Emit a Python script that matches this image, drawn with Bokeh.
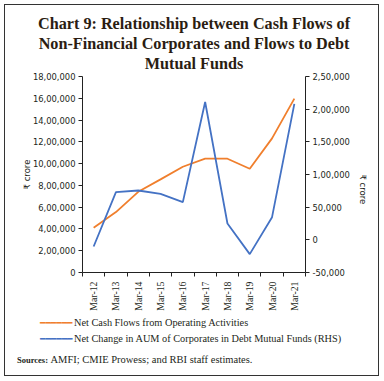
import math
from bokeh.plotting import figure
from bokeh.models import Range1d, LinearAxis, FixedTicker, Title
from bokeh.embed import file_html
from bokeh.resources import INLINE

categories = ["Mar-12", "Mar-13", "Mar-14", "Mar-15", "Mar-16",
              "Mar-17", "Mar-18", "Mar-19", "Mar-20", "Mar-21"]
net_cash_flows = [410000, 555000, 741000, 855000, 971000,
                  1045000, 1045000, 953000, 1232000, 1597000]
net_change_aum = [-10200, 73000, 75500, 70400, 57700,
                  211000, 25000, -21900, 34700, 208000]
left_ticks = [0, 200000, 400000, 600000, 800000, 1000000, 1200000, 1400000, 1600000, 1800000]
left_tick_labels = ["0", "2,00,000", "4,00,000", "6,00,000", "8,00,000", "10,00,000",
                    "12,00,000", "14,00,000", "16,00,000", "18,00,000"]
right_ticks = [-50000, 0, 50000, 100000, 150000, 200000, 250000]
right_tick_labels = ["-50,000", "0", "50,000", "1,00,000", "1,50,000", "2,00,000", "2,50,000"]

title_lines = ["Chart 9: Relationship between Cash Flows of",
               "Non-Financial Corporates and Flows to Debt",
               "Mutual Funds"]
series_names = ["Net Cash Flows from Operating Activities",
                "Net Change in AUM of Corporates in Debt Mutual Funds (RHS)"]
source_head = "Sources:"
source_text = "AMFI; CMIE Prowess; and RBI staff estimates."

ORANGE = "#F07F2D"
BLUE = "#4472C4"
TXT = "#231f20"
TITLE_C = "#2b1d12"

FL, FT = 77, 71
FW, FH = 223, 196
BR, BB = 73, 103

p = figure(frame_width=FW, frame_height=FH, output_backend="svg", toolbar_location=None,
           x_range=Range1d(0, len(categories)), y_range=Range1d(0, 1800000),
           min_border_left=FL, min_border_right=BR, min_border_top=FT,
           min_border_bottom=BB, x_axis_type=None, y_axis_type=None,
           styles={"border": "1.5px solid #333333", "margin-left": "4px",
                   "margin-top": "4px"})
p.extra_y_ranges = {"rhs": Range1d(-50000, 250000)}
p.grid.visible = False
p.outline_line_color = None
p.background_fill_color = "white"
p.border_fill_color = "white"

xs = [i + 0.5 for i in range(len(categories))]

tick_font = "DejaVu Sans"
yl = LinearAxis(ticker=FixedTicker(ticks=left_ticks, minor_ticks=[]),
                major_label_overrides={t: l for t, l in zip(left_ticks, left_tick_labels)},
                axis_label="₹ crore")
xb = LinearAxis(ticker=FixedTicker(ticks=xs, minor_ticks=list(range(len(categories) + 1))),
                major_label_overrides={x: c for x, c in zip(xs, categories)})
yr = LinearAxis(y_range_name="rhs",
                ticker=FixedTicker(ticks=right_ticks, minor_ticks=[]),
                major_label_overrides={t: l for t, l in zip(right_ticks, right_tick_labels)},
                axis_label="₹ crore")
for ax in (yl, yr):
    ax.major_label_text_font = tick_font
    ax.major_label_text_font_size = "8.4px"
    ax.major_label_text_color = TXT
    ax.axis_label_text_font = tick_font
    ax.axis_label_text_font_size = "8.5px"
    ax.axis_label_text_font_style = "normal"
    ax.axis_label_text_color = TXT
    ax.major_tick_out = 4
    ax.major_tick_in = 0
    ax.minor_tick_out = 0
    ax.axis_line_color = "#222222"
    ax.major_tick_line_color = "#222222"
yl.major_label_standoff = 3
yl.axis_label_standoff = 1
try:
    yl.axis_label_standoff = -2
except Exception:
    pass
yr.major_label_standoff = 3
yr.axis_label_standoff = 10
if "axis_label_orientation" in yr.properties():
    try:
        yr.axis_label_orientation = -math.pi / 2
    except Exception:
        pass
xb.major_label_orientation = math.pi / 2
xb.major_label_text_font = "Liberation Serif"
xb.major_label_text_font_size = "9.8px"
xb.major_label_text_color = TXT
xb.major_tick_out = 0
xb.major_tick_in = 0
xb.minor_tick_out = 4
xb.minor_tick_in = 0
xb.major_label_standoff = 5
xb.axis_line_color = "#222222"
xb.minor_tick_line_color = "#222222"
p.add_layout(yl, "left")
p.add_layout(yr, "right")
p.add_layout(xb, "below")

r1 = p.line(xs, net_cash_flows, line_color=ORANGE, line_width=1.8)
r2 = p.line(xs, net_change_aum, line_color=BLUE, line_width=1.8, y_range_name="rhs")


def row(text, offset, size, font="Liberation Serif", style="normal", color=TXT,
        valign="middle", standoff=0.0):
    p.add_layout(Title(text=text, align="left", offset=offset, vertical_align=valign,
                       text_font=font, text_font_size=size, text_font_style=style,
                       text_color=color, standoff=standoff), "below")


def spacer(standoff):
    p.add_layout(Title(text=" ", align="left", vertical_align="middle",
                       text_font="Liberation Serif", text_font_size="9.8px",
                       text_color=TXT, standoff=standoff), "below")


# key (legend) rows: label row, then a thin row carrying the coloured key line
key_colors = [ORANGE, BLUE]
spacer(-6.25)
for i, (name, col) in enumerate(zip(series_names, key_colors)):
    row(name, 68.5 - FL, "10.3px", standoff=-9.82)
    row("━━━━━━", 34.5 - FL, "9px", font="DejaVu Sans", color=col,
        valign="top", standoff=-10.1)
    if i == 0:
        spacer(-1.65)
spacer(2.85)

# sources line: regular text row, then thin bold head on the same line
row(source_text, 45 - FL, "10.5px", standoff=-10.05)
row(source_head, 11.5 - FL, "8.5px", style="bold", valign="top", standoff=-10.5)

# title lines: nearest to frame first
for line, s in zip(reversed(title_lines), [6.4, -6.0, 5.6]):
    p.add_layout(Title(text=line, align="center", vertical_align="middle",
                       text_font="Liberation Serif", text_font_size="16.2px",
                       text_font_style="bold", text_color=TITLE_C,
                       standoff=s), "above")

open("out.html", "w").write(file_html(p, INLINE))
